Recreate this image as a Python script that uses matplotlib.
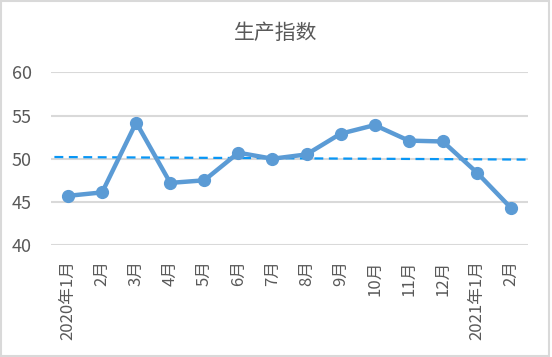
import matplotlib
matplotlib.use('Agg')
import matplotlib.pyplot as plt
from matplotlib.patches import Rectangle

plt.rcParams['font.family'] = ['Noto Sans CJK SC', 'DejaVu Sans']

# data
months = ['2020年1月', '2月', '3月', '4月', '5月', '6月', '7月',
          '8月', '9月', '10月', '11月', '12月', '2021年1月', '2月']
production = [45.7, 46.1, 54.2, 47.2, 47.5, 50.7, 50.0,
              50.5, 52.9, 53.9, 52.1, 52.0, 48.4, 44.3]
ref_line = [50.2, 49.9]
y_ticks = [40, 45, 50, 55, 60]

fig = plt.figure(figsize=(5.52, 3.57), dpi=100)
ax = fig.add_axes([0.0924, 0.3137, 0.8641, 0.4833])

x = list(range(len(months)))
ax.plot([-0.4, len(months) - 0.45], ref_line, color='#0896F5', lw=1.6,
        ls=(0, (4, 2.5)), zorder=2, clip_on=False)
ax.plot(x, production, color='#5B9BD5', lw=3.2, marker='o', ms=8.5,
        solid_joinstyle='round', zorder=3)

ax.set_xlim(-0.5, len(months) - 0.5)
ax.set_ylim(40, 60)
ax.set_yticks(y_ticks)
ax.set_xticks(x)
ax.set_xticklabels(months, rotation=90, va='top', ha='center')
ax.yaxis.grid(True, color='#D9D9D9', lw=1.5)
ax.set_axisbelow(True)
for s in ax.spines.values():
    s.set_visible(False)
ax.tick_params(axis='y', length=0, pad=14, labelsize=13, labelcolor='#595959')
ax.tick_params(axis='x', length=0, pad=11, labelsize=12, labelcolor='#595959')

fig.text(0.5, 0.907, '生产指数', ha='center', va='center',
         fontsize=15, color='#595959')

fig.patches.append(Rectangle((0.002, 0.004), 0.993, 0.992, transform=fig.transFigure,
                             fill=False, edgecolor='#D9D9D9', lw=1.5))

fig.savefig('out.png', dpi=100)
